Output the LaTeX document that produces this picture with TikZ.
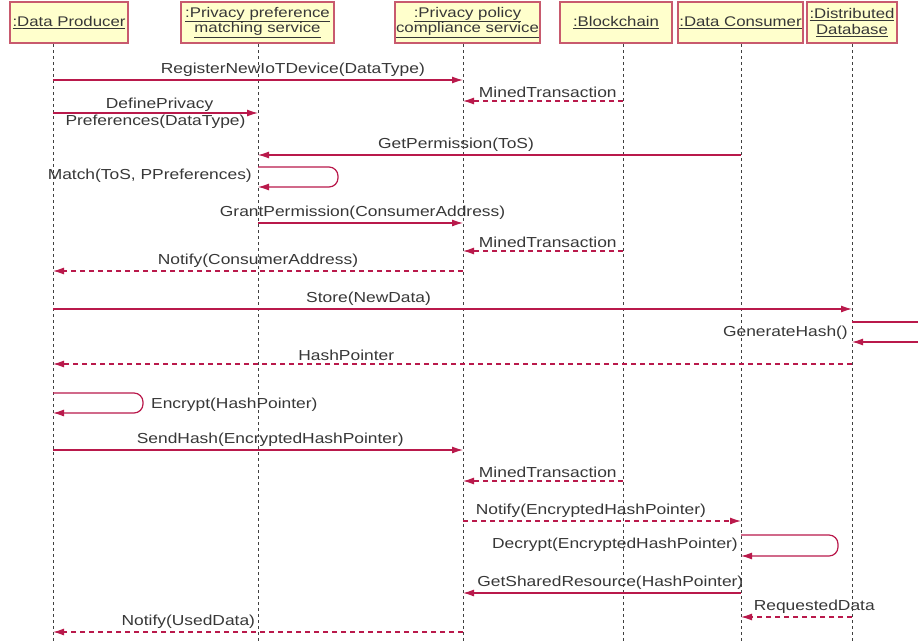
\documentclass[tikz,border=0pt]{standalone}
\usepackage{fontspec}
\setmainfont{Liberation Sans}[FakeStretch=1.2]
\usetikzlibrary{arrows.meta}
\definecolor{msgred}{RGB}{185,25,75}
\definecolor{boxred}{RGB}{200,90,110}
\definecolor{boxfill}{RGB}{255,255,204}
\definecolor{txtgray}{RGB}{55,55,55}

\begin{document}
\begin{tikzpicture}[x=1pt, y=-1pt,
    obj/.style={rectangle, draw=boxred, line width=1.3pt, fill=boxfill, minimum height=41pt, inner sep=1pt, align=center, font=\fontsize{14}{15.5}\selectfont, text=txtgray},
    life/.style={dash pattern=on 3pt off 3pt, black!75, line width=0.9pt},
    msg/.style={-{Latex[length=11pt,width=7pt]}, msgred, line width=1.2pt},
    reply/.style={msg, dash pattern=on 5pt off 4pt},
    lbl/.style={font=\fontsize{14.5}{16}\selectfont, text=txtgray, inner sep=1pt}
]
    \useasboundingbox (0,0) rectangle (918,641);

    % objects
    \node[obj, minimum width=118pt] (prod) at (69,22.5) {\underline{:Data Producer}};
    \node[obj, minimum width=153pt] (pref) at (257.5,22.5) {\underline{:Privacy preference}\\\underline{matching service}};
    \node[obj, minimum width=145pt] (pol) at (467.5,22.5) {\underline{:Privacy policy}\\\underline{compliance service}};
    \node[obj, minimum width=112pt] (chain) at (616,22.5) {\underline{:Blockchain}};
    \node[obj, minimum width=125pt] (cons) at (740.5,22.5) {\underline{:Data Consumer}};
    \node[obj, minimum width=90pt] (db) at (852,22.5) {\underline{:Distributed}\\\underline{Database}};

    % lifelines
    \coordinate (prodL) at (53,44);
    \coordinate (prefL) at (258,44);
    \coordinate (polL) at (463,44);
    \coordinate (chainL) at (623,44);
    \coordinate (consL) at (741,44);
    \coordinate (dbL) at (852,44);
    \foreach \l in {prodL, prefL, polL, chainL, consL, dbL}
        \draw[life] (\l) -- (\l |- 0,641);

    % messages
    \draw[msg] (prodL |- 0,80) -- node[lbl, above=2pt, pos=.585] {RegisterNewIoTDevice(DataType)} (polL |- 0,80);
    \draw[reply] (chainL |- 0,101) -- node[lbl, above=2pt, pos=.47] {MinedTransaction} (polL |- 0,101);
    \draw[msg] (prodL |- 0,113) -- node[lbl, above, pos=.52] {DefinePrivacy} node[lbl, below, pos=.5] {Preferences(DataType)} (prefL |- 0,113);
    \draw[msg] (consL |- 0,155) -- node[lbl, above=2pt, pos=.59] {GetPermission(ToS)} (prefL |- 0,155);
    \draw[msg, rounded corners=9pt] (prefL |- 0,167) -- ++(80,0) -- ++(0,20) -- (prefL |- 0,187);
    \node[lbl, anchor=east] (match) at (253,176) {Match(ToS, PPreferences)};
    \draw[msg] (prefL |- 0,223) -- node[lbl, above=2pt, pos=.51] {GrantPermission(ConsumerAddress)} (polL |- 0,223);
    \draw[reply] (chainL |- 0,251) -- node[lbl, above=2pt, pos=.47] {MinedTransaction} (polL |- 0,251);
    \draw[reply] (polL |- 0,271) -- node[lbl, above=2pt, pos=.5] {Notify(ConsumerAddress)} (prodL |- 0,271);
    \draw[msg] (prodL |- 0,309) -- node[lbl, above=2pt, pos=.395] {Store(NewData)} (dbL |- 0,309);
    \draw[msg] (dbL |- 0,322) -- ++(80,0) -- ++(0,20) -- (dbL |- 0,342);
    \node[lbl, anchor=east] (genhash) at (849,333) {GenerateHash()};
    \draw[reply] (dbL |- 0,364) -- node[lbl, above=2pt, pos=.633] {HashPointer} (prodL |- 0,364);
    \draw[msg, rounded corners=9pt] (prodL |- 0,393) -- ++(90,0) -- ++(0,20) -- (prodL |- 0,413);
    \node[lbl, anchor=west] (encrypt) at (150,405) {Encrypt(HashPointer)};
    \draw[msg] (prodL |- 0,450) -- node[lbl, above=2pt, pos=.53] {SendHash(EncryptedHashPointer)} (polL |- 0,450);
    \draw[reply] (chainL |- 0,481) -- node[lbl, above=2pt, pos=.47] {MinedTransaction} (polL |- 0,481);
    \draw[reply] (polL |- 0,521) -- node[lbl, above=2pt, pos=.46] {Notify(EncryptedHashPointer)} (consL |- 0,521);
    \draw[msg, rounded corners=9pt] (consL |- 0,535) -- ++(97,0) -- ++(0,21) -- (consL |- 0,556);
    \node[lbl, anchor=east] (decrypt) at (739,545) {Decrypt(EncryptedHashPointer)};
    \draw[msg] (consL |- 0,593) -- node[lbl, above=2pt, pos=.47] {GetSharedResource(HashPointer)} (polL |- 0,593);
    \draw[reply] (dbL |- 0,617) -- node[lbl, above=2pt, pos=.34] {RequestedData} (consL |- 0,617);
    \draw[reply] (polL |- 0,632) -- node[lbl, above=2pt, pos=.67] {Notify(UsedData)} (prodL |- 0,632);
\end{tikzpicture}
\end{document}
